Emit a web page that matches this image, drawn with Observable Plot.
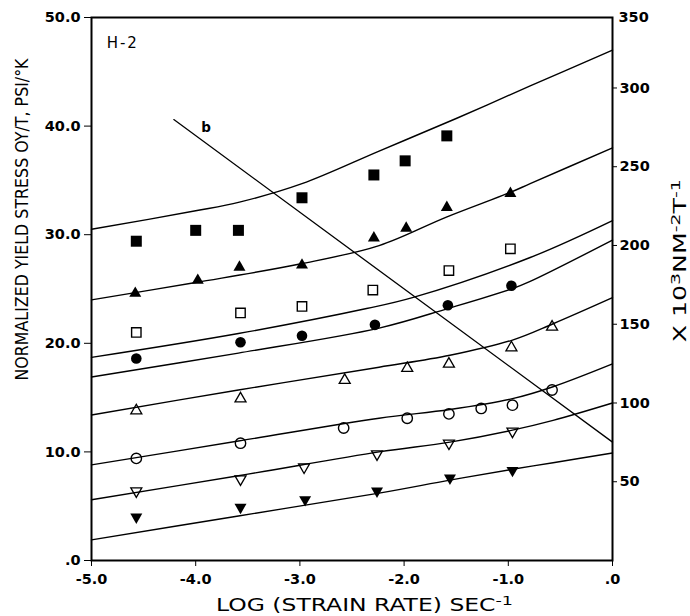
<!DOCTYPE html>
<html>
<head>
<meta charset="utf-8">
<script src="https://cdn.jsdelivr.net/npm/d3@7"></script>
<script src="https://cdn.jsdelivr.net/npm/@observablehq/plot@0.6"></script>
<style>
  html, body { margin: 0; padding: 0; background: #fff; }
  #chart svg { display: block; }
</style>
</head>
<body>
<div id="chart"></div>
<script>
// ---------- axes ----------
const xTicks = [-5, -4, -3, -2, -1, 0];
const yTicks = [0, 10, 20, 30, 40, 50];
const rightTicks = [50, 100, 150, 200, 250, 300];
const rightTopLabel = "350";
const psiToKNm2 = 6.8948; // 1 psi = 6.8948 x 10^3 N m^-2

// ---------- fitted curves (log strain rate, normalized yield stress) ----------
const c1x = [-5, -4, -3.58, -2.98, -2.24, -1.5, -0.79, 0];
const c1y = [30.5, 32.2, 33.0, 34.7, 37.7, 40.7, 43.7, 47.0];
const c2x = [-5, -4, -3, -2.24, -1.6, -0.98, -0.79, 0];
const c2y = [24.0, 25.6, 27.3, 29.0, 31.6, 33.9, 34.7, 38.0];
const c3x = [-5, -3.59, -2.36, -1.92, -0.79, 0];
const c3y = [18.7, 20.9, 23.2, 24.2, 27.9, 31.3];
const c4x = [-5, -3.59, -2.24, -1.58, -0.97, -0.79, 0];
const c4y = [16.9, 19.1, 21.4, 23.2, 25.0, 25.7, 29.5];
const c5x = [-5, -3.59, -2.24, -1.56, -0.96, -0.57, 0];
const c5y = [13.4, 15.7, 17.8, 18.9, 20.3, 21.8, 24.2];
const c6x = [-5, -3.59, -2.24, -1.56, -0.96, -0.57, 0];
const c6y = [8.8, 11.0, 13.1, 13.9, 14.9, 16.0, 18.1];
const c7x = [-5, -3.59, -2.24, -1.56, -0.96, -0.57, 0];
const c7y = [5.6, 7.8, 10.0, 10.9, 12.0, 12.9, 14.5];
const c8x = [-5, -3.59, -2.24, -1.56, -0.96, -0.57, 0];
const c8y = [1.9, 4.1, 6.2, 7.4, 8.4, 9.0, 9.9];

// ---------- line b ----------
const bx = [-4.21, 0];
const by = [40.6, 10.9];

// ---------- measured points ----------
const fSqX = [-4.57, -4.0, -3.59, -2.98, -2.29, -1.99, -1.59];
const fSqY = [29.4, 30.4, 30.4, 33.4, 35.5, 36.8, 39.1];
const fTriX = [-4.58, -3.98, -3.58, -2.98, -2.29, -1.98, -1.59, -0.98];
const fTriY = [24.6, 25.8, 27.0, 27.2, 29.7, 30.6, 32.5, 33.8];
const oSqX = [-4.57, -3.57, -2.98, -2.30, -1.57, -0.98];
const oSqY = [21.0, 22.8, 23.4, 24.9, 26.7, 28.7];
const fCirX = [-4.57, -3.57, -2.98, -2.28, -1.58, -0.97];
const fCirY = [18.6, 20.1, 20.7, 21.7, 23.5, 25.3];
const oTriX = [-4.57, -3.57, -2.57, -1.97, -1.57, -0.97, -0.58];
const oTriY = [13.8, 14.9, 16.6, 17.7, 18.1, 19.6, 21.5];
const oCirX = [-4.57, -3.57, -2.58, -1.97, -1.57, -1.26, -0.96, -0.58];
const oCirY = [9.4, 10.8, 12.2, 13.1, 13.5, 14.0, 14.3, 15.7];
const oDnX = [-4.57, -3.57, -2.96, -2.26, -1.57, -0.96];
const oDnY = [6.4, 7.5, 8.6, 9.8, 10.8, 11.9];
const fDnX = [-4.57, -3.57, -2.95, -2.26, -1.56, -0.96];
const fDnY = [4.0, 4.9, 5.6, 6.4, 7.6, 8.3];

// ---------- texts ----------
const yTitle = "NORMALIZED YIELD STRESS OY/T, PSI/°K";
const xTitleParts = [["LOG (STRAIN RATE) SEC", false], ["-1", true]];
const rTitleParts = [["X 10", false], ["3", true], ["NM", false], ["-2", true], ["T", false], ["-1", true]];
const panelLabel = "H-2";
const lineLabel = "b";

// ---------- custom symbols (r = half width) ----------
const sq = {draw(ctx, size) { const r = Math.sqrt(size / Math.PI); ctx.rect(-r, -r, 2 * r, 2 * r); }};
const triUp = {draw(ctx, size) {
  const w = Math.sqrt(size / Math.PI), h = w * Math.sqrt(3);
  ctx.moveTo(0, -2 * h / 3); ctx.lineTo(w, h / 3); ctx.lineTo(-w, h / 3); ctx.closePath();
}};
const triDn = {draw(ctx, size) {
  const w = Math.sqrt(size / Math.PI), h = w * Math.sqrt(3);
  ctx.moveTo(0, 2 * h / 3); ctx.lineTo(w, -h / 3); ctx.lineTo(-w, -h / 3); ctx.closePath();
}};

const fmt = v => (v === 0 ? ".0" : v.toFixed(1));
const tickFont = {fontFamily: "DejaVu Sans", fontWeight: "bold", fontSize: 14.5};
const titleFont = "DejaVu Sans";

const curves = [[c1x, c1y], [c2x, c2y], [c3x, c3y], [c4x, c4y], [c5x, c5y], [c6x, c6y], [c7x, c7y], [c8x, c8y]];

const X_MARK = "__XTITLE__", R_MARK = "__RTITLE__";

const chart = Plot.plot({
  width: 690,
  height: 616,
  marginLeft: 91,
  marginRight: 78,
  marginTop: 17,
  marginBottom: 56,
  x: {domain: [-5, 0]},
  y: {domain: [0, 50]},
  style: {fontFamily: "DejaVu Sans", fontSize: "14px", color: "#000", background: "#fff", overflow: "visible"},
  marks: [
    ...curves.map(([xs, ys]) => Plot.line(xs, {x: xs, y: ys, curve: "catmull-rom", stroke: "#000", strokeWidth: 1.4})),
    Plot.line(bx, {x: bx, y: by, stroke: "#000", strokeWidth: 1.3}),
    Plot.dot(fSqX, {x: fSqX, y: fSqY, symbol: sq, r: 5.5, fill: "#000", stroke: "none"}),
    Plot.dot(fTriX, {x: fTriX, y: fTriY, symbol: triUp, r: 6, fill: "#000", stroke: "none"}),
    Plot.dot(oSqX, {x: oSqX, y: oSqY, symbol: sq, r: 4.7, fill: "none", stroke: "#000", strokeWidth: 1.4}),
    Plot.dot(fCirX, {x: fCirX, y: fCirY, r: 5.3, fill: "#000", stroke: "none"}),
    Plot.dot(oTriX, {x: oTriX, y: oTriY, symbol: triUp, r: 5.5, fill: "none", stroke: "#000", strokeWidth: 1.3}),
    Plot.dot(oCirX, {x: oCirX, y: oCirY, r: 5.2, fill: "none", stroke: "#000", strokeWidth: 1.4}),
    Plot.dot(oDnX, {x: oDnX, y: oDnY, symbol: triDn, r: 5.5, fill: "none", stroke: "#000", strokeWidth: 1.3}),
    Plot.dot(fDnX, {x: fDnX, y: fDnY, symbol: triDn, r: 6, fill: "#000", stroke: "none"}),
    Plot.frame({stroke: "#000", strokeWidth: 2}),
    Plot.axisX({ticks: xTicks, tickFormat: fmt, tickSize: 6, tickPadding: 7, label: null, ...tickFont}),
    Plot.axisY({ticks: yTicks, tickFormat: fmt, tickSize: 7, tickPadding: 4, label: null, ...tickFont}),
    Plot.axisY({anchor: "right", ticks: rightTicks.map(v => v / psiToKNm2), tickFormat: d => String(Math.round(d * psiToKNm2)), tickSize: 4, tickPadding: 3, label: null, ...tickFont}),
    Plot.text([rightTopLabel], {frameAnchor: "top-right", text: d => d, dx: 6, textAnchor: "start", lineAnchor: "middle", ...tickFont}),
    Plot.text([panelLabel], {x: [-4.7], y: [47.6], text: d => d, fontSize: 15, fontFamily: "DejaVu Sans"}),
    Plot.text([lineLabel], {x: [-3.9], y: [39.9], text: d => d, fontSize: 13.5, fontWeight: "bold", fontFamily: "DejaVu Sans"}),
    Plot.text([yTitle], {frameAnchor: "left", y: [31.4], text: d => d, dx: -69, rotate: -90, textAnchor: "middle", lineAnchor: "middle", fontSize: 18.5, fontFamily: titleFont}),
    Plot.text([X_MARK], {x: [-2.38], frameAnchor: "bottom", text: d => d, dy: 45, textAnchor: "middle", lineAnchor: "middle", fontSize: 17.5, fontFamily: titleFont}),
    Plot.text([R_MARK], {y: [27.6], frameAnchor: "right", text: d => d, dx: 68, rotate: -90, textAnchor: "middle", lineAnchor: "middle", fontSize: 17.5, fontFamily: titleFont})
  ]
});
document.getElementById("chart").appendChild(chart);

const svg = d3.select(chart);
function rich(content, parts, len, shift) {
  svg.selectAll("text").filter(function() { return this.textContent === content; }).each(function() {
    const el = d3.select(this);
    el.text(null);
    parts.forEach(([t, sup], i) => {
      const ts = el.append("tspan").text(t);
      if (sup) ts.attr("font-size", "75%").attr("dy", -shift);
      else if (i > 0 && parts[i - 1][1]) ts.attr("dy", shift);
    });
    if (len) el.attr("textLength", len).attr("lengthAdjust", "spacingAndGlyphs");
  });
}
rich(yTitle, [[yTitle, false]], 322, 0);
rich(X_MARK, xTitleParts, 297, 6);
rich(R_MARK, rTitleParts, 163, 6);
svg.selectAll("text").filter(function() { return this.textContent === panelLabel; }).attr("letter-spacing", 2);
</script>
</body>
</html>
